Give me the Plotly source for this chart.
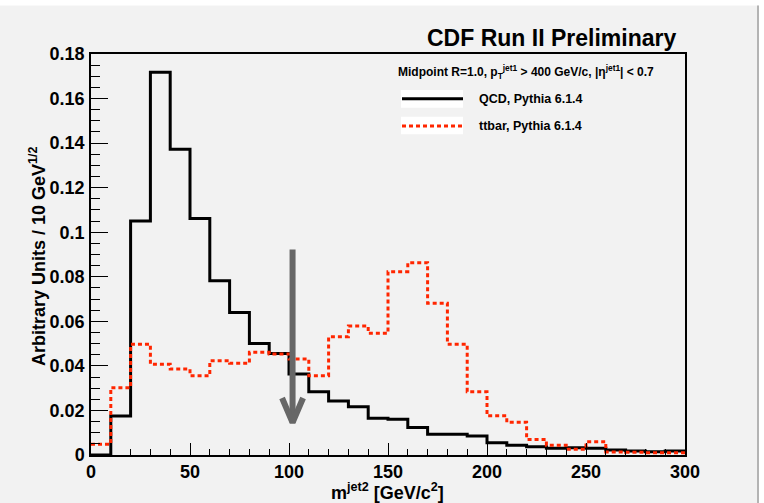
import plotly.graph_objects as go

# Histogram binning: 30 bins of 10 GeV/c^2 from 0 to 300
bin_edges = [10 * i for i in range(31)]

# Normalised jet-mass spectra of the second jet
qcd_pythia = [
    0.0, 0.0175, 0.105, 0.1718, 0.1373, 0.1062, 0.0782, 0.064, 0.0501, 0.0456,
    0.0364, 0.0284, 0.0242, 0.0217, 0.0165, 0.016, 0.0124, 0.0093, 0.0093, 0.0085,
    0.0055, 0.0044, 0.0037, 0.003, 0.0033, 0.003, 0.0022, 0.0018, 0.0015, 0.0018,
]
ttbar_pythia = [
    0.0048, 0.0302, 0.0497, 0.0407, 0.0386, 0.0356, 0.0423, 0.0412, 0.0461, 0.0453,
    0.0431, 0.0356, 0.0531, 0.0579, 0.0546, 0.0823, 0.0863, 0.0681, 0.0497, 0.0284,
    0.0176, 0.0147, 0.007, 0.0044, 0.0026, 0.006, 0.0013, 0.0012, 0.001, 0.001,
]

# Mass-window arrow (GeV/c^2 and y-axis units)
arrow_mass = 101.8
arrow_top = 0.0923
arrow_tip = 0.0145
arrow_wing_dx = 5.3
arrow_wing_y = 0.0256

y_ticks = [0, 0.02, 0.04, 0.06, 0.08, 0.1, 0.12, 0.14, 0.16, 0.18]
y_tick_text = ["0", "0.02", "0.04", "0.06", "0.08", "0.1", "0.12", "0.14", "0.16", "0.18"]
x_ticks = [0, 50, 100, 150, 200, 250, 300]

FONT = "Liberation Sans"
BG = "#f2f2f2"
RED = "#ff2600"

# Figure geometry (pixels)
WIDTH, HEIGHT = 764, 503
L, R, T, B = 91, 685, 54, 455


def px(x):
    return (x - L) / (R - L)


def py(y):
    return (B - y) / (B - T)


def step(values):
    return bin_edges[:-1] + [bin_edges[-1]], values + [values[-1]]


fig = go.Figure()

qx, qy = step(qcd_pythia)
fig.add_trace(go.Scatter(x=qx, y=qy, mode="lines", line_shape="hv",
                         line=dict(color="black", width=3), hoverinfo="skip"))
tx, ty = step(ttbar_pythia)
fig.add_trace(go.Scatter(x=tx, y=ty, mode="lines", line_shape="hv",
                         line=dict(color=RED, width=3, dash="4px,3px"), hoverinfo="skip"))

# Arrow: shaft plus open chevron head
fig.add_trace(go.Scatter(
    x=[arrow_mass, arrow_mass, None,
       arrow_mass - arrow_wing_dx, arrow_mass, arrow_mass + arrow_wing_dx],
    y=[arrow_top, arrow_tip, None, arrow_wing_y, arrow_tip, arrow_wing_y],
    mode="lines", line=dict(color="#676767", width=6), hoverinfo="skip"))

tick_font = dict(family=FONT, size=18, color="black", weight="bold")

fig.update_xaxes(
    range=[0, 300], tickvals=x_ticks, ticks="inside", ticklen=12, tickwidth=1,
    tickcolor="black", minor=dict(dtick=10, ticks="inside", ticklen=6,
                                  tickcolor="black", tickwidth=1),
    showline=True, linecolor="black", linewidth=1.5, mirror=True,
    showgrid=False, zeroline=False, tickfont=tick_font, ticklabelstandoff=0,
)
fig.update_yaxes(
    range=[0, 0.18], tickvals=y_ticks, ticktext=y_tick_text, ticks="inside",
    ticklen=17, tickwidth=1, tickcolor="black",
    minor=dict(dtick=0.005, ticks="inside", ticklen=9, tickcolor="black", tickwidth=1),
    showline=True, linecolor="black", linewidth=1.5, mirror=True,
    showgrid=False, zeroline=False, tickfont=tick_font, ticklabelstandoff=1,
)

shapes = [
    # legend sample backgrounds
    dict(type="rect", xref="paper", yref="paper", x0=px(401), x1=px(463),
         y0=py(107.7), y1=py(90), fillcolor="white", line_width=0, layer="below"),
    dict(type="rect", xref="paper", yref="paper", x0=px(401), x1=px(463),
         y0=py(134.3), y1=py(116.7), fillcolor="white", line_width=0, layer="below"),
    # legend line samples
    dict(type="line", xref="paper", yref="paper", x0=px(402), x1=px(463),
         y0=py(98.7), y1=py(98.7), line=dict(color="black", width=3)),
    dict(type="line", xref="paper", yref="paper", x0=px(402), x1=px(463),
         y0=py(126), y1=py(126), line=dict(color=RED, width=3, dash="4px,3px")),
    # canvas edge: white margin and window shadow
    dict(type="rect", xref="paper", yref="paper", x0=px(759), x1=px(WIDTH + 1),
         y0=py(HEIGHT + 1), y1=py(-1), fillcolor="white", line_width=0),
    dict(type="rect", xref="paper", yref="paper", x0=px(-1), x1=px(WIDTH + 1),
         y0=py(5.5), y1=py(-1), fillcolor="white", line_width=0),
    dict(type="rect", xref="paper", yref="paper", x0=px(757), x1=px(759),
         y0=py(HEIGHT + 1), y1=py(5.5), fillcolor="#b4b4b4", line_width=0),
]


def label(text, x, y, size, xanchor="left", angle=0):
    return dict(text=text, xref="paper", yref="paper", x=px(x), y=py(y),
                xanchor=xanchor, yanchor="middle", showarrow=False, textangle=angle,
                font=dict(family=FONT, size=size, color="black", weight="bold"))


annotations = [
    label("CDF Run II Preliminary", 678, 38, 23, xanchor="right"),
    label("Midpoint R=1.0, p<sub>T</sub><sup>jet1</sup> &gt; 400 GeV/c, "
          "|η<sup>jet1</sup>| &lt; 0.7", 396, 72, 12),
    label("QCD, Pythia 6.1.4", 477, 99, 12.5),
    label("ttbar, Pythia 6.1.4", 477, 126, 12.5),
    label("Arbitrary Units / 10 GeV<sup>1/2</sup>", 38, 256, 18,
          xanchor="center", angle=-90),
    label("m<sup>jet2</sup> [GeV/c<sup>2</sup>]", 387, 491, 18, xanchor="center"),
]

fig.update_layout(
    width=WIDTH, height=HEIGHT, autosize=False,
    margin=dict(l=L, r=WIDTH - R, t=T, b=HEIGHT - B, pad=0),
    paper_bgcolor=BG, plot_bgcolor=BG, showlegend=False,
    shapes=shapes, annotations=annotations,
)

fig.write_html("out.html")
